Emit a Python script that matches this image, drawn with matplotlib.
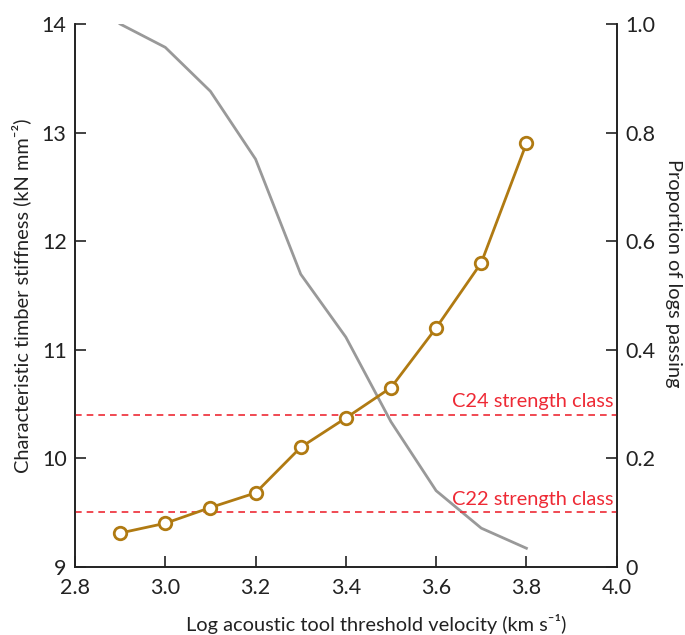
import matplotlib
matplotlib.use("Agg")
import matplotlib.pyplot as plt

plt.rcParams['font.family'] = ['Lato', 'DejaVu Sans']

velocity = [2.9, 3.0, 3.1, 3.2, 3.3, 3.4, 3.5, 3.6, 3.7, 3.8]
stiffness = [9.31, 9.40, 9.545, 9.68, 10.10, 10.37, 10.65, 11.20, 11.80, 12.90]
proportion = [1.0, 0.957, 0.876, 0.751, 0.539, 0.423, 0.267, 0.140, 0.071, 0.034]
c24_value = 10.40
c22_value = 9.50
x_ticks = [2.8, 3.0, 3.2, 3.4, 3.6, 3.8, 4.0]
left_ticks = [9, 10, 11, 12, 13, 14]
right_ticks = [0, 0.2, 0.4, 0.6, 0.8, 1.0]
right_labels = ['0', '0.2', '0.4', '0.6', '0.8', '1.0']

orange = '#B07A12'
gray = '#999999'
red = '#EE2A35'
fs_tick = 15.5
fs_lab = 14.4

fig = plt.figure(figsize=(6.85, 6.35), dpi=100)
ax = fig.add_axes([75/685, 1-566.7/635, (616.7-75)/685, (566.7-24)/635])
ax2 = ax.twinx()

ax2.plot(velocity, proportion, color=gray, lw=2, zorder=2)
ax.axhline(c24_value, color=red, lw=1.2, ls=(0, (4, 3)))
ax.axhline(c22_value, color=red, lw=1.2, ls=(0, (4, 3)))
ax.text(3.993, c24_value + 0.04, 'C24 strength class', color=red, fontsize=fs_lab,
        ha='right', va='bottom')
ax.text(3.993, c22_value + 0.04, 'C22 strength class', color=red, fontsize=fs_lab,
        ha='right', va='bottom')

ax.set_zorder(ax2.get_zorder() + 1)
ax.patch.set_visible(False)
ax.plot(velocity, stiffness, color=orange, lw=2, marker='o', ms=9,
        mfc='white', mec=orange, mew=2, zorder=3)

ax.set_xlim(2.8, 4.0)
ax.set_ylim(9, 14)
ax2.set_ylim(0, 1.0)
ax.set_xticks(x_ticks)
ax.set_xticklabels([f'{t:.1f}' for t in x_ticks])
ax.set_yticks(left_ticks)
ax2.set_yticks(right_ticks)
ax2.set_yticklabels(right_labels)

for a in (ax, ax2):
    a.spines['top'].set_visible(False)
    for s in a.spines.values():
        s.set_linewidth(1.2)
        s.set_color('#222222')
ax.tick_params(axis='x', direction='in', length=8, width=1.2,
               labelsize=fs_tick, colors='#222222', pad=8)
ax.tick_params(axis='y', direction='in', length=8, width=1.2,
               labelsize=fs_tick, colors='#222222', pad=6)
ax2.tick_params(axis='y', direction='in', length=8, width=1.2,
                labelsize=fs_tick, colors='#222222', pad=6)

ax.set_xlabel('Log acoustic tool threshold velocity (km s\u207b\u00b9)', fontsize=fs_lab,
              color='#222222')
ax.xaxis.set_label_coords(0.556, -0.087)
ax.set_ylabel('Characteristic timber stiffness (kN mm\u207b\u00b2)', fontsize=fs_lab,
              color='#222222', labelpad=8)
ax2.set_ylabel('Proportion of logs passing', fontsize=fs_lab, color='#222222',
               rotation=270, labelpad=22)
ax2.yaxis.set_label_coords(1.12, 0.54)

fig.savefig('out.png', dpi=100)
